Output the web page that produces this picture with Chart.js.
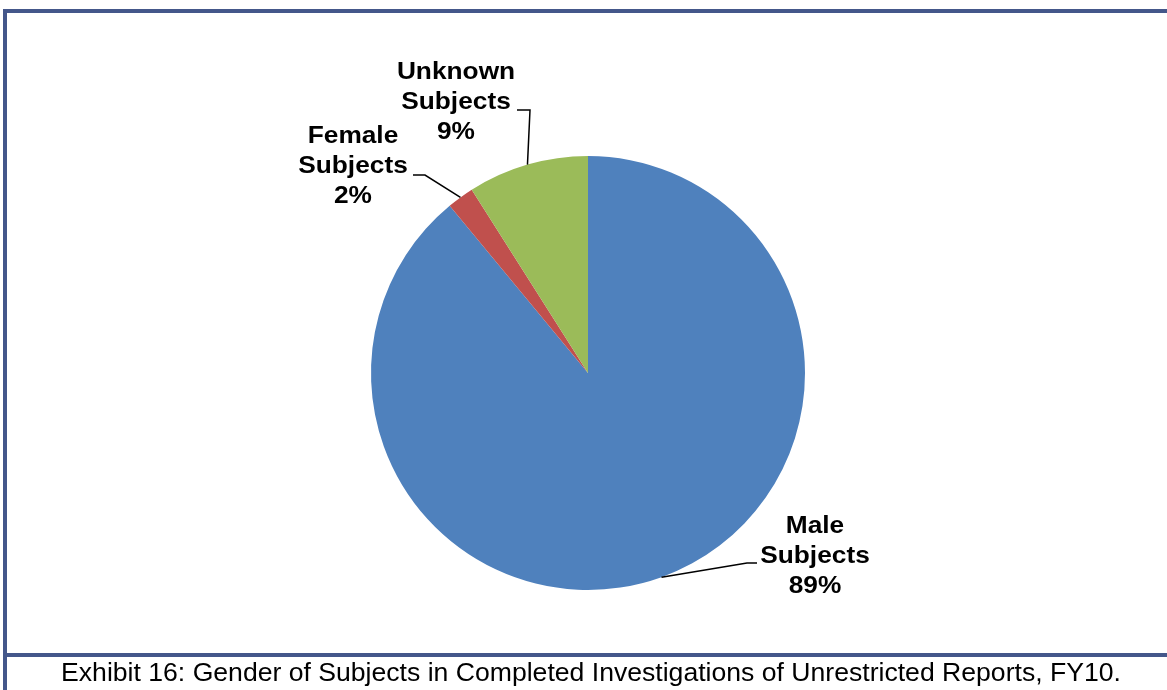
<!DOCTYPE html>
<html>
<head>
<meta charset="utf-8">
<script src="https://cdn.jsdelivr.net/npm/chart.js@4.4.1/dist/chart.umd.min.js"></script>
<style>
  html, body { margin: 0; padding: 0; background: #fff; }
  body { width: 1167px; height: 690px; position: relative; overflow: hidden; font-family: "Liberation Sans", Arial, sans-serif; }
  #frame-top { position: absolute; left: 3px; top: 9px; width: 1170px; height: 4px; background: #44578a; }
  #frame-left { position: absolute; left: 3px; top: 9px; width: 4px; height: 690px; background: #44578a; }
  #frame-bottom { position: absolute; left: 3px; top: 653px; width: 1170px; height: 4px; background: #44578a; }
  #wrap { position: absolute; left: 0; top: 0; width: 1167px; height: 690px; }
  #caption { position: absolute; left: 0; width: 1182px; top: 657px; text-align: center; font-size: 26.6px; line-height: 30px; color: #000; white-space: nowrap; }
</style>
</head>
<body>
<div id="wrap"><canvas id="chart"></canvas></div>
<div id="frame-top"></div>
<div id="frame-left"></div>
<div id="frame-bottom"></div>
<div id="caption">Exhibit 16: Gender of Subjects in Completed Investigations of Unrestricted Reports, FY10.</div>
<script>
// Daten
const categories = ['Male Subjects', 'Female Subjects', 'Unknown Subjects'];
const shares = [89, 2, 9];
const sliceColors = ['#4f81bd', '#c0504d', '#9bbb59'];

// Beschriftungen: Textmitte, erste Grundlinie, Knickpunkt der Führungslinie
const labelPlacement = [
    { x: 815, y: 533, elbowX: 747, elbowY: 563, endX: 757 },
    { x: 353, y: 143, elbowX: 425, elbowY: 175, endX: 413 },
    { x: 456, y: 79,  elbowX: 530, elbowY: 110, endX: 517 }
];

const calloutPlugin = {
    id: 'callouts',
    afterDatasetsDraw(chart) {
        const ctx = chart.ctx;
        const meta = chart.getDatasetMeta(0);
        ctx.save();
        meta.data.forEach((arc, i) => {
            const p = labelPlacement[i];
            const mid = (arc.startAngle + arc.endAngle) / 2;
            const sx = arc.x + Math.cos(mid) * arc.outerRadius;
            const sy = arc.y + Math.sin(mid) * arc.outerRadius;

            // Führungslinie
            ctx.strokeStyle = '#000';
            ctx.lineWidth = 1.5;
            ctx.beginPath();
            ctx.moveTo(sx, sy);
            ctx.lineTo(p.elbowX, p.elbowY);
            ctx.lineTo(p.endX, p.elbowY);
            ctx.stroke();

            // Text, leicht in die Breite gezogen wie im Original
            const words = categories[i].split(' ');
            const lines = [words[0], words[1], shares[i] + '%'];
            const stretch = 1.095;
            ctx.save();
            ctx.translate(p.x, 0);
            ctx.scale(stretch, 1);
            ctx.fillStyle = '#000';
            ctx.font = 'bold 24px "Liberation Sans", Arial, sans-serif';
            ctx.textAlign = 'center';
            ctx.textBaseline = 'alphabetic';
            lines.forEach((t, k) => ctx.fillText(t, 0, p.y + k * 30));
            ctx.restore();
        });
        ctx.restore();
    }
};

window.chart = new Chart(document.getElementById('chart'), {
    type: 'pie',
    data: {
        labels: categories,
        datasets: [{
            data: shares,
            backgroundColor: sliceColors,
            borderWidth: 0
        }]
    },
    options: {
        responsive: true,
        maintainAspectRatio: false,
        animation: false,
        layout: { padding: { left: 371, right: 362, top: 156, bottom: 100 } },
        plugins: {
            legend: { display: false },
            tooltip: { enabled: false }
        }
    },
    plugins: [calloutPlugin]
});
</script>
</body>
</html>
